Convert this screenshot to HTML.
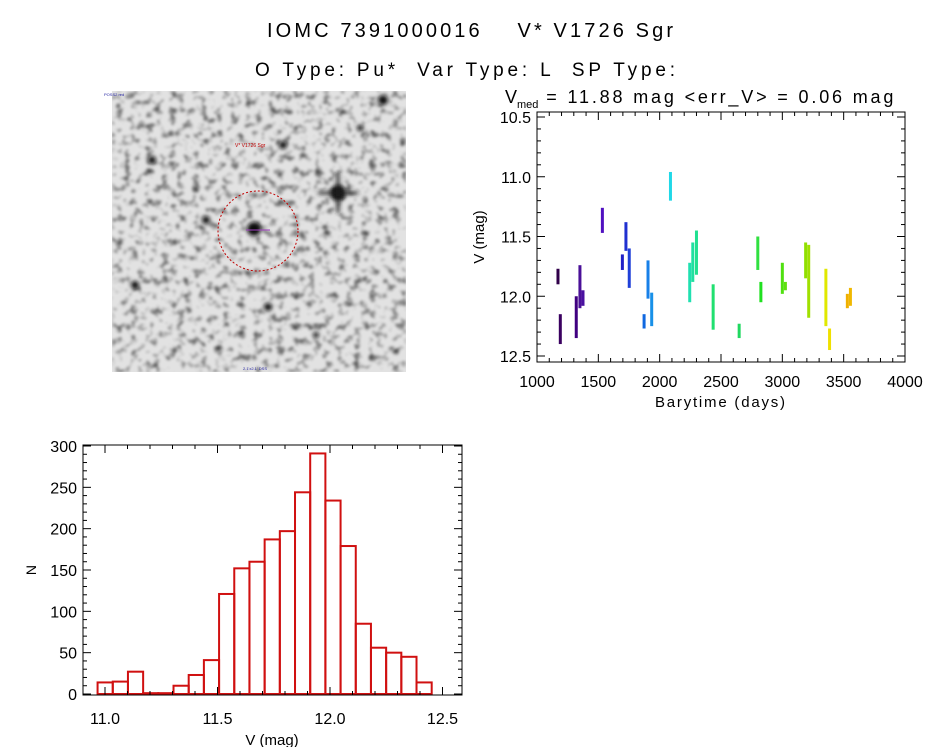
<!DOCTYPE html>
<html><head><meta charset="utf-8"><style>
body{margin:0;background:#fff;}
svg text{font-family:"Liberation Sans",sans-serif;fill:#000;}
</style></head><body>
<svg width="944" height="747" viewBox="0 0 944 747" xmlns="http://www.w3.org/2000/svg">
<defs>
<filter id="noise" x="0" y="0" width="100%" height="100%">
<feTurbulence type="fractalNoise" baseFrequency="0.13" numOctaves="2" seed="11" result="t"/>
<feColorMatrix type="matrix" values="0 0 0 0 0  0 0 0 0 0  0 0 0 0 0  -2.4 0 0 0 1.2" />
<feGaussianBlur stdDeviation="1.2"/>
</filter>
<filter id="blur"><feGaussianBlur stdDeviation="2"/></filter>
</defs>
<text x="470" y="37" font-size="20" text-anchor="middle" textLength="406" lengthAdjust="spacing" xml:space="preserve">IOMC 7391000016    V* V1726 Sgr</text>
<text x="465" y="76" font-size="19" text-anchor="middle" textLength="420" lengthAdjust="spacing" xml:space="preserve">O Type: Pu*  Var Type: L  SP Type:</text>

<g>
<rect x="112" y="91" width="294" height="281" fill="#e2e2e2"/>
<rect x="112" y="91" width="294" height="281" fill="#000" filter="url(#noise)" opacity="0.75"/>
<g filter="url(#blur)" fill="#111">
<circle cx="254" cy="229" r="7"/><circle cx="338" cy="193" r="8"/>
<circle cx="206" cy="220" r="4"/><circle cx="152" cy="160" r="4"/>
<circle cx="383" cy="100" r="5"/><circle cx="283" cy="145" r="4"/>
<circle cx="268" cy="307" r="4"/><circle cx="316" cy="335" r="3"/>
<circle cx="135" cy="285" r="4"/><circle cx="360" cy="128" r="3"/>
</g>
<path d="M318 193 H358 M338 173 V213" stroke="#222" stroke-width="3" filter="url(#blur)"/>
<circle cx="258" cy="231" r="40" fill="none" stroke="#c00000" stroke-width="1" stroke-dasharray="2,2"/>
<line x1="246" y1="230" x2="270" y2="230" stroke="#a040c0" stroke-width="1"/>
<text x="235" y="147" font-size="5" style="fill:#c00000">V* V1726 Sgr</text>
<text x="104" y="96" font-size="4" style="fill:#2020a0">POSS2 red</text>
<text x="243" y="370" font-size="4" style="fill:#2020a0">2.1'x2.1' DSS</text>
</g>

<g id="lc"></g>
<g id="hist"></g>
</svg>
<script>
// Light curve segments (time, mag range)
const lcTimes=[1171,1190,1320,1350,1375,1533,1696,1725,1752,1873,1905,1935,2088,2245,2270,2300,2436,2648,2800,2825,3000,3025,3190,3215,3355,3385,3530,3555];
const lcMagMin=[11.77,12.15,12.0,11.74,11.95,11.26,11.65,11.38,11.6,12.15,11.7,11.97,10.96,11.72,11.55,11.45,11.9,12.23,11.5,11.88,11.72,11.88,11.55,11.57,11.77,12.27,11.98,11.93];
const lcMagMax=[11.9,12.4,12.35,12.1,12.08,11.47,11.78,11.62,11.93,12.27,12.02,12.25,11.2,12.05,11.88,11.82,12.28,12.35,11.78,12.05,11.98,11.95,11.85,12.18,12.25,12.45,12.1,12.08];
const lcColors=["#30004a","#3a0060","#400080","#4a1098","#4a10a0","#5010c0","#2020c8","#2030d0","#2040d8","#1068e0","#1880e8","#1890e8","#20d8e8","#20e0b0","#20e0a0","#20e090","#20e070","#20d860","#30e040","#20e020","#50e010","#60e010","#90e000","#a0e000","#e0e800","#f0e000","#f0b000","#f0b800"];
const lcXTicks=[1000,1500,2000,2500,3000,3500,4000];
const lcYTicks=[10.5,11.0,11.5,12.0,12.5];
// Histogram
const histStart=10.967, histWidth=0.0675;
const histCounts=[14,15,27,1,1,10,23,41,121,152,160,187,197,244,291,234,179,85,56,50,45,14];
const histXTicks=[11.0,11.5,12.0,12.5];
const histYTicks=[0,50,100,150,200,250,300];

const NS="http://www.w3.org/2000/svg";
function mk(parent,tag,attrs,txt){const e=document.createElementNS(NS,tag);for(const k in attrs)e.setAttribute(k,attrs[k]);if(txt!==undefined)e.textContent=txt;parent.appendChild(e);return e;}

// ----- Light curve
const lc=document.getElementById('lc');
const L={x0:537,x1:905,y0:112,y1:362};
const lx=t=>537+(t-1000)/3000*368;
const ly=m=>117+(m-10.5)*119.5;
for(let i=0;i<lcTimes.length;i++){
  const r=mk(lc,'rect',{x:lx(lcTimes[i])-1.5,y:ly(lcMagMin[i]),width:3,height:ly(lcMagMax[i])-ly(lcMagMin[i]),fill:lcColors[i]});
  
  
}
const lcBox=mk(lc,'rect',{x:L.x0,y:L.y0,width:L.x1-L.x0,height:L.y1-L.y0,fill:'none',stroke:'#000','stroke-width':1});


for(let t=1000;t<=4000;t+=100){const X=lx(t),len=(t%500===0)?8:4;
  mk(lc,'line',{x1:X,y1:L.y1,x2:X,y2:L.y1-len,stroke:'#000'});mk(lc,'line',{x1:X,y1:L.y0,x2:X,y2:L.y0+len,stroke:'#000'});}
for(let k=0;k<=21;k++){const m=10.5+k*0.1;if(m>12.55)break;const Y=ly(m),len=(k%5===0)?8:4;
  mk(lc,'line',{x1:L.x0,y1:Y,x2:L.x0+len,y2:Y,stroke:'#000'});mk(lc,'line',{x1:L.x1,y1:Y,x2:L.x1-len,y2:Y,stroke:'#000'});}
lcXTicks.forEach(t=>{const e=mk(lc,'text',{x:lx(t),y:387,'font-size':16,'text-anchor':'middle'},String(t));
  });
lcYTicks.forEach(m=>{const e=mk(lc,'text',{x:531,y:ly(m)+6,'font-size':16,'text-anchor':'end'},m.toFixed(1));
  });
const lxt=mk(lc,'text',{x:720,y:407,'font-size':15,'text-anchor':'middle',textLength:130,lengthAdjust:'spacing'},'Barytime (days)');

const lyt=mk(lc,'text',{x:0,y:0,'font-size':15,'text-anchor':'middle',transform:'translate(484,237) rotate(-90)'},'V (mag)');

const ltt=mk(lc,'text',{x:505,y:103,'font-size':18},'');

ltt.innerHTML='V<tspan font-size="11" dy="5">med</tspan><tspan dy="-5" textLength="355" lengthAdjust="spacing"> = 11.88 mag &lt;err_V&gt; = 0.06 mag</tspan>';

// ----- Histogram
const h=document.getElementById('hist');
const H={x0:83,x1:462,y0:445,y1:695};
const hx=v=>105+(v-11.0)*225;
const hy=n=>694-n*(248/300);
histCounts.forEach((c,i)=>{const a=hx(histStart+i*histWidth),b=hx(histStart+(i+1)*histWidth);
  const r=mk(h,'rect',{x:a,y:hy(c),width:b-a,height:694-hy(c),fill:'none',stroke:'#d01010','stroke-width':2});
  });
const hb=mk(h,'rect',{x:H.x0,y:H.y0,width:H.x1-H.x0,height:H.y1-H.y0,fill:'none',stroke:'#000','stroke-width':1});

for(let k=-1;k<=16;k++){const v=11.0+k*0.1,X=hx(v);if(X<H.x0||X>H.x1)continue;const len=(k%5===0)?8:4;
  mk(h,'line',{x1:X,y1:H.y1,x2:X,y2:H.y1-len,stroke:'#000'});mk(h,'line',{x1:X,y1:H.y0,x2:X,y2:H.y0+len,stroke:'#000'});}
for(let n=0;n<=300;n+=10){const Y=hy(n),len=(n%50===0)?8:4;
  mk(h,'line',{x1:H.x0,y1:Y,x2:H.x0+len,y2:Y,stroke:'#000'});mk(h,'line',{x1:H.x1,y1:Y,x2:H.x1-len,y2:Y,stroke:'#000'});}
histXTicks.forEach(v=>{const e=mk(h,'text',{x:hx(v),y:724,'font-size':16,'text-anchor':'middle'},v.toFixed(1));
  });
histYTicks.forEach(n=>{const e=mk(h,'text',{x:77,y:hy(n)+6,'font-size':16,'text-anchor':'end'},String(n));
  });
const hxt=mk(h,'text',{x:272,y:745,'font-size':15,'text-anchor':'middle'},'V (mag)');

const hyt=mk(h,'text',{x:0,y:0,'font-size':14,'text-anchor':'middle',transform:'translate(36,570) rotate(-90)'},'N');

</script>
</body></html>
